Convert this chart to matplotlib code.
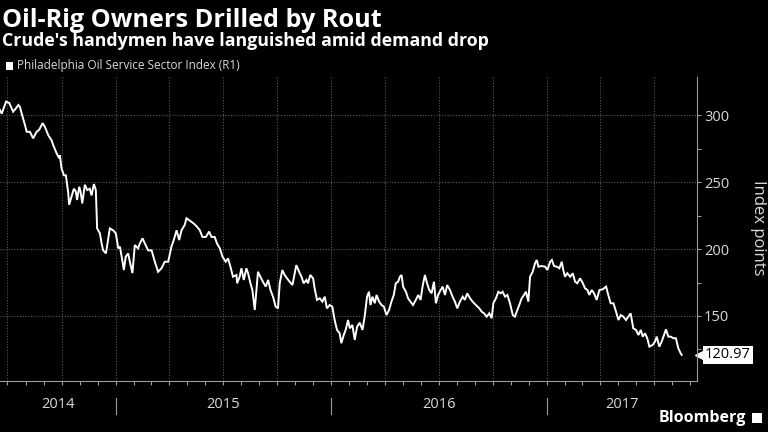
import datetime as dt
import matplotlib
matplotlib.use('Agg')
import matplotlib.pyplot as plt
import matplotlib.dates as mdates
import matplotlib.transforms as mtransforms
from matplotlib.patches import Rectangle

# ─── Data (time as decimal year) ───
TITLE = "Oil-Rig Owners Drilled by Rout"
SUBTITLE = "Crude's handymen have languished amid demand drop"
SERIES_NAME = "Philadelphia Oil Service Sector Index (R1)"
Y_LABEL = "Index points"
LAST_VALUE = 120.97

t_year = [
    2014.462, 2014.470, 2014.490, 2014.505, 2014.523, 2014.536, 2014.547, 2014.555, 2014.562, 2014.578,
    2014.586, 2014.601, 2014.616, 2014.632, 2014.644, 2014.660, 2014.671, 2014.686, 2014.702, 2014.709,
    2014.725, 2014.737, 2014.740, 2014.748, 2014.759, 2014.768, 2014.779, 2014.783, 2014.794, 2014.805,
    2014.814, 2014.820, 2014.830, 2014.836, 2014.844, 2014.856, 2014.867, 2014.879, 2014.887, 2014.898,
    2014.907, 2014.913, 2014.926, 2014.934, 2014.941, 2014.954, 2014.972, 2014.987, 2015.000, 2015.011,
    2015.019, 2015.031, 2015.037, 2015.046, 2015.057, 2015.065, 2015.077, 2015.088, 2015.103, 2015.111,
    2015.124, 2015.135, 2015.150, 2015.166, 2015.181, 2015.196, 2015.212, 2015.227, 2015.243, 2015.258,
    2015.269, 2015.282, 2015.294, 2015.305, 2015.320, 2015.328, 2015.340, 2015.351, 2015.362, 2015.377,
    2015.390, 2015.402, 2015.418, 2015.433, 2015.444, 2015.459, 2015.470, 2015.483, 2015.495, 2015.510,
    2015.521, 2015.532, 2015.544, 2015.560, 2015.563, 2015.575, 2015.583, 2015.594, 2015.606, 2015.614,
    2015.625, 2015.634, 2015.645, 2015.660, 2015.671, 2015.683, 2015.696, 2015.707, 2015.718, 2015.730,
    2015.742, 2015.753, 2015.761, 2015.773, 2015.784, 2015.795, 2015.807, 2015.820, 2015.826, 2015.838,
    2015.851, 2015.862, 2015.872, 2015.885, 2015.892, 2015.903, 2015.916, 2015.923, 2015.934, 2015.947,
    2015.959, 2015.970, 2015.980, 2015.993, 2016.005, 2016.016, 2016.027, 2016.039, 2016.047, 2016.058,
    2016.067, 2016.078, 2016.086, 2016.098, 2016.109, 2016.120, 2016.132, 2016.145, 2016.155, 2016.166,
    2016.175, 2016.182, 2016.191, 2016.202, 2016.210, 2016.222, 2016.233, 2016.244, 2016.256, 2016.268,
    2016.279, 2016.290, 2016.299, 2016.310, 2016.318, 2016.326, 2016.333, 2016.346, 2016.356, 2016.367,
    2016.379, 2016.392, 2016.403, 2016.414, 2016.423, 2016.434, 2016.444, 2016.454, 2016.465, 2016.476,
    2016.485, 2016.495, 2016.507, 2016.516, 2016.527, 2016.537, 2016.550, 2016.562, 2016.573, 2016.584,
    2016.596, 2016.609, 2016.619, 2016.630, 2016.643, 2016.655, 2016.670, 2016.686, 2016.697, 2016.708,
    2016.720, 2016.732, 2016.743, 2016.751, 2016.763, 2016.774, 2016.785, 2016.794, 2016.805, 2016.816,
    2016.828, 2016.841, 2016.851, 2016.862, 2016.871, 2016.882, 2016.893, 2016.902, 2016.913, 2016.921,
    2016.933, 2016.944, 2016.952, 2016.960, 2016.975, 2016.991, 2017.001, 2017.014, 2017.022, 2017.032,
    2017.045, 2017.057, 2017.068, 2017.075, 2017.083, 2017.094, 2017.107, 2017.119, 2017.130, 2017.140,
    2017.153, 2017.166, 2017.176, 2017.187, 2017.196, 2017.207, 2017.218, 2017.230, 2017.243, 2017.258,
    2017.274, 2017.284, 2017.295, 2017.308, 2017.320, 2017.331, 2017.342, 2017.354, 2017.366, 2017.377,
    2017.388, 2017.400, 2017.413, 2017.424, 2017.435, 2017.444, 2017.455, 2017.465, 2017.475, 2017.490,
    2017.501, 2017.509, 2017.521, 2017.532, 2017.543, 2017.552, 2017.563, 2017.574, 2017.586, 2017.598,
    2017.609, 2017.620, 2017.625,
]

index_pts = [
    303.7, 301.0, 310.0, 309.0, 302.5, 305.0, 307.5, 306.0, 301.5, 292.5,
    287.5, 287.5, 282.6, 287.5, 289.0, 294.0, 291.0, 285.0, 281.0, 277.6,
    271.4, 267.7, 270.0, 260.0, 255.0, 255.0, 241.5, 233.0, 239.0, 245.0,
    243.0, 236.6, 246.5, 243.0, 234.0, 248.0, 244.0, 245.0, 240.0, 248.5,
    244.0, 215.4, 211.7, 204.0, 199.0, 196.7, 215.4, 214.0, 211.7, 200.5,
    201.7, 190.5, 184.3, 194.3, 196.7, 190.5, 182.0, 203.0, 200.5, 204.0,
    208.0, 204.0, 199.0, 199.0, 190.5, 183.0, 185.6, 190.5, 190.5, 201.7,
    206.7, 214.0, 206.7, 214.0, 218.0, 223.0, 221.6, 220.4, 219.0, 216.6,
    214.0, 209.0, 209.0, 213.0, 209.0, 209.0, 204.0, 200.5, 194.3, 190.5,
    193.0, 186.8, 179.3, 180.6, 174.4, 179.3, 185.6, 176.9, 185.6, 181.9,
    174.4, 169.4, 154.5, 183.0, 179.3, 175.6, 171.9, 176.9, 169.4, 164.4,
    157.0, 155.7, 174.4, 184.3, 180.6, 178.1, 175.6, 173.1, 178.1, 188.0,
    183.0, 179.3, 174.4, 176.9, 174.4, 180.6, 178.1, 170.7, 162.0, 163.2,
    160.7, 164.4, 155.7, 158.2, 157.0, 147.0, 139.6, 137.1, 129.7, 135.8,
    139.6, 147.0, 140.8, 143.3, 132.1, 142.0, 145.0, 139.6, 149.5, 164.4,
    168.1, 158.2, 164.4, 159.5, 165.7, 160.7, 158.2, 157.0, 150.7, 154.5,
    160.7, 165.7, 174.4, 175.6, 179.3, 180.6, 171.9, 168.1, 163.2, 160.7,
    158.2, 162.0, 165.7, 162.0, 171.9, 180.6, 174.4, 169.4, 166.9, 175.6,
    159.5, 165.7, 169.4, 171.9, 165.7, 173.1, 169.4, 164.4, 160.7, 155.7,
    160.7, 164.4, 162.0, 166.9, 163.2, 160.7, 158.2, 155.7, 153.2, 152.0,
    149.5, 152.0, 148.3, 159.5, 163.2, 168.1, 166.9, 168.1, 164.4, 165.7,
    159.5, 150.7, 149.5, 154.5, 158.2, 163.2, 165.7, 168.1, 160.7, 179.3,
    183.0, 189.3, 191.8, 186.8, 187.3, 186.8, 184.3, 190.5, 191.8, 187.3,
    186.8, 185.6, 190.5, 184.3, 179.3, 181.9, 179.3, 181.9, 175.6, 174.4,
    178.1, 174.4, 170.7, 169.4, 165.7, 169.4, 166.9, 162.0, 169.4, 169.9,
    171.9, 165.7, 159.5, 159.5, 153.2, 147.0, 150.7, 149.5, 147.0, 149.5,
    152.0, 140.8, 139.6, 135.8, 139.6, 134.6, 137.1, 133.4, 127.1, 128.4,
    130.9, 134.6, 127.1, 130.9, 135.8, 140.0, 134.6, 134.6, 133.4, 133.4,
    126.0, 122.2, 120.97,
]

y_ticks = [150, 200, 250, 300]
y_minor = [125, 175, 225, 275]
years = [2014, 2015, 2016, 2017]
x_start, x_end = 2014.462, 2017.696
y_min, y_max = 101.7, 328.4


def to_date(t):
    y = int(t)
    a = dt.datetime(y, 1, 1)
    b = dt.datetime(y + 1, 1, 1)
    return a + (t - y) * (b - a)


dates = [to_date(t) for t in t_year]

plt.rcParams['font.family'] = ['Open Sans', 'DejaVu Sans']
BG = "black"
FG = "white"
GRID = "#5a5a5a"
AXIS = "#9a9a9a"
TICK_TXT = "#d9d9d9"

fig = plt.figure(figsize=(7.68, 4.32), dpi=100, facecolor=BG)
ax = fig.add_axes([0.0, 1 - 380.7 / 432, 697 / 768, (380.7 - 77) / 432])
ax.set_facecolor(BG)

ax.plot(dates, index_pts, color=FG, linewidth=1.4, solid_joinstyle='miter')

ax.set_xlim(to_date(x_start), to_date(x_end))
ax.set_ylim(y_min, y_max)

# grid: quarters vertical, 50s horizontal
ax.xaxis.set_major_locator(mdates.MonthLocator(bymonth=[1, 4, 7, 10]))
ax.xaxis.set_minor_locator(mdates.MonthLocator())
ax.xaxis.set_major_formatter(plt.NullFormatter())
ax.grid(True, axis='x', which='major', color=GRID, linestyle=(0, (1, 1.5)), linewidth=0.8)
ax.set_yticks(y_ticks)
ax.set_yticks(y_minor, minor=True)
ax.grid(True, axis='y', which='major', color=GRID, linestyle=(0, (1, 1.5)), linewidth=0.8)

ax.yaxis.tick_right()
ax.tick_params(axis='x', which='both', direction='out', length=3, width=0.8, color=AXIS, labelbottom=False)
ax.tick_params(axis='y', which='both', direction='out', length=3, width=0.8, color=AXIS,
               labelcolor=TICK_TXT, labelsize=10.5, pad=2)

for s in ['top', 'left']:
    ax.spines[s].set_visible(False)
for s in ['bottom', 'right']:
    ax.spines[s].set_color(AXIS)
    ax.spines[s].set_linewidth(0.8)

# year labels and separators
trans = mtransforms.blended_transform_factory(ax.transData, ax.transAxes)
lo, hi = mdates.date2num(to_date(x_start)), mdates.date2num(to_date(x_end))
for yr in years:
    a = max(mdates.date2num(dt.datetime(yr, 1, 1)), lo)
    b = min(mdates.date2num(dt.datetime(yr + 1, 1, 1)), hi)
    ax.text((a + b) / 2, -0.08, str(yr), transform=trans, ha='center', va='center',
            color=TICK_TXT, fontsize=10.5)
    sep = mdates.date2num(dt.datetime(yr, 1, 1))
    if lo < sep < hi:
        ax.plot([sep, sep], [-0.057, -0.11], transform=trans, color=AXIS, linewidth=0.8, clip_on=False)

# last value tag
tag = mtransforms.blended_transform_factory(ax.transAxes, ax.transData)
ax.plot([1.005], [LAST_VALUE], marker='<', color=FG, markersize=7, transform=tag, clip_on=False)
ax.annotate(f"{LAST_VALUE:.2f}", xy=(1.0, LAST_VALUE), xycoords=tag, xytext=(8, 0),
            textcoords='offset pixels', ha='left', va='center', color='black', fontsize=10.5,
            bbox=dict(boxstyle='square,pad=0.12', fc=FG, ec='none'))

# titles and legend
fig.text(0.003, 1 - 27 / 432, TITLE, color=FG, fontsize=18.2, fontweight='bold', va='baseline')
fig.text(0.003, 1 - 46 / 432, SUBTITLE, color=FG, fontsize=12.8, fontweight='bold', va='baseline')
fig.patches.append(Rectangle((6 / 768, 1 - 69.5 / 432), 7 / 768, 7 / 432, transform=fig.transFigure,
                             facecolor=FG, edgecolor='none'))
fig.text(17 / 768, 1 - 65.5 / 432, SERIES_NAME, color=TICK_TXT, fontsize=8.5, va='center')
fig.text(758 / 768, 1 - 228 / 432, Y_LABEL, color=TICK_TXT, fontsize=12, rotation=270,
         ha='center', va='center')

# Bloomberg mark
fig.text(746 / 768, 1 - 418 / 432, "Bloomberg", color=FG, fontsize=11.5, fontweight='bold',
         ha='right', va='center')
fig.patches.append(Rectangle((752 / 768, 1 - 423 / 432), 10 / 768, 10 / 432, transform=fig.transFigure,
                             facecolor=FG, edgecolor='none'))

fig.savefig("out.png", dpi=100, facecolor=BG)
